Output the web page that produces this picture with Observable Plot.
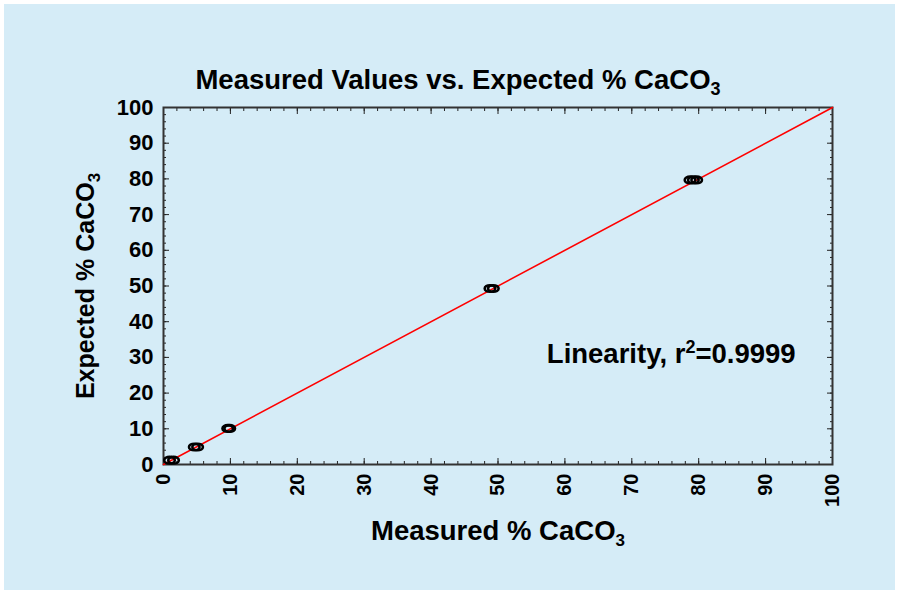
<!DOCTYPE html>
<html><head><meta charset="utf-8">
<script src="https://cdn.jsdelivr.net/npm/d3@7"></script>
<script src="https://cdn.jsdelivr.net/npm/@observablehq/plot@0.6"></script>
<style>
body{margin:0;background:#fff;width:899px;height:593px;overflow:hidden;font-family:"Liberation Sans",Arial,sans-serif;}
#panel{position:absolute;left:4px;top:4px;width:891px;height:586px;background:#d5ecf7;}
#title{position:absolute;left:0;top:60px;width:908px;text-align:center;font-weight:bold;font-size:27.5px;line-height:31px;color:#000;white-space:nowrap;}
#title sub{font-size:18px;vertical-align:-6px;line-height:0;}
#chart{position:absolute;left:0;top:91px;}
</style></head><body>
<div id="panel"><div id="title">Measured Values vs. Expected % CaCO<sub>3</sub></div><div id="chart"></div></div>
<script>
// Data
const measured = [0.9, 1.5, 4.6, 5.1, 9.6, 9.9, 48.8, 49.3, 78.7, 79.2, 79.7];
const expected = [1.2, 1.2, 4.9, 4.9, 10.1, 10.1, 49.3, 49.3, 79.7, 79.7, 79.7];
const fitX = [0, 100];
const fitY = [0, 100];
const majorTicks = [0, 10, 20, 30, 40, 50, 60, 70, 80, 90, 100];
const minorTicks = d3.range(0, 101, 2);
const xLabel = "Measured % CaCO3";
const yLabel = "Expected % CaCO3";
const annotation = ["Linearity, r2=0.9999"];
const annotX = [57.3];
const annotY = [31];

const points = measured.map((m, i) => ({m, e: expected[i]}));
const fit = fitX.map((x, i) => ({x, y: fitY[i]}));

const k = 0.5523;
const ellipse = {
  draw(ctx, size) {
    const ry = Math.sqrt(size / Math.PI), rx = ry * 1.6;
    ctx.moveTo(rx, 0);
    ctx.bezierCurveTo(rx, k * ry, k * rx, ry, 0, ry);
    ctx.bezierCurveTo(-k * rx, ry, -rx, k * ry, -rx, 0);
    ctx.bezierCurveTo(-rx, -k * ry, -k * rx, -ry, 0, -ry);
    ctx.bezierCurveTo(k * rx, -ry, rx, -k * ry, rx, 0);
    ctx.closePath();
  }
};

const xTickFont = {fontSize: 20, fontWeight: "bold", fill: "#000"};
const yTickFont = {fontSize: 22, fontWeight: "bold", fill: "#000"};
const hFont = {fontSize: 27.5, fontWeight: "bold", fill: "#000"};
const vFont = {fontSize: 25, fontWeight: "bold", fill: "#000"};
const tickStroke = "#222";

const svg = Plot.plot({
  width: 891,
  height: 495,
  marginTop: 12,
  marginBottom: 126,
  marginLeft: 159,
  marginRight: 63,
  style: {background: "transparent", fontFamily: "'Liberation Sans', Arial, sans-serif", overflow: "visible"},
  x: {domain: [0, 100]},
  y: {domain: [0, 100]},
  marks: [
    Plot.axisX({anchor: "bottom", ticks: majorTicks, tickSize: -6, tickPadding: 15, tickRotate: -90, label: null, stroke: tickStroke, ...xTickFont}),
    Plot.axisX({anchor: "bottom", ticks: minorTicks, tickSize: -3, text: null, label: null, stroke: tickStroke}),
    Plot.axisX({anchor: "top", ticks: majorTicks, tickSize: -6, text: null, label: null, stroke: tickStroke}),
    Plot.axisX({anchor: "top", ticks: minorTicks, tickSize: -3, text: null, label: null, stroke: tickStroke}),
    Plot.axisY({anchor: "left", ticks: majorTicks, tickSize: -6, tickPadding: 16, label: null, stroke: tickStroke, ...yTickFont}),
    Plot.axisY({anchor: "left", ticks: minorTicks, tickSize: -3, text: null, label: null, stroke: tickStroke}),
    Plot.axisY({anchor: "right", ticks: majorTicks, tickSize: -6, text: null, label: null, stroke: tickStroke}),
    Plot.axisY({anchor: "right", ticks: minorTicks, tickSize: -3, text: null, label: null, stroke: tickStroke}),
    Plot.frame({stroke: "#333", strokeWidth: 2}),
    Plot.line(fit, {x: "x", y: "y", stroke: "#ff0000", strokeWidth: 1.6}),
    Plot.dot(points, {x: "m", y: "e", r: 3.3, symbol: ellipse, stroke: "#000", strokeWidth: 2.6, fill: "none"}),
    Plot.text(annotation, {x: () => annotX[0], y: () => annotY[0], text: d => d, textAnchor: "start", lineAnchor: "middle", className: "annot", ...hFont}),
    Plot.text([xLabel], {frameAnchor: "bottom", dy: 67, lineAnchor: "middle", textAnchor: "middle", text: d => d, className: "sub3", ...hFont}),
    Plot.text([yLabel], {frameAnchor: "left", dx: -78, rotate: -90, textAnchor: "middle", lineAnchor: "middle", text: d => d, className: "sub3v", ...vFont})
  ]
});
document.getElementById("chart").appendChild(svg);

// subscripts / superscripts
d3.select(svg).selectAll(".sub3 text, .sub3v text").each(function() {
  const t = this.textContent;
  const el = d3.select(this);
  el.text(t.slice(0, -1));
  el.append("tspan").attr("dy", "6").attr("font-size", 17).text(t.slice(-1));
});
d3.select(svg).selectAll(".annot text").each(function() {
  const t = this.textContent;
  const i = t.indexOf("r2") + 1;
  const el = d3.select(this);
  el.text(t.slice(0, i));
  el.append("tspan").attr("dy", "-10").attr("font-size", 18).text(t.slice(i, i + 1));
  el.append("tspan").attr("dy", "10").attr("font-size", 27.5).text(t.slice(i + 1));
});
</script>
</body></html>
